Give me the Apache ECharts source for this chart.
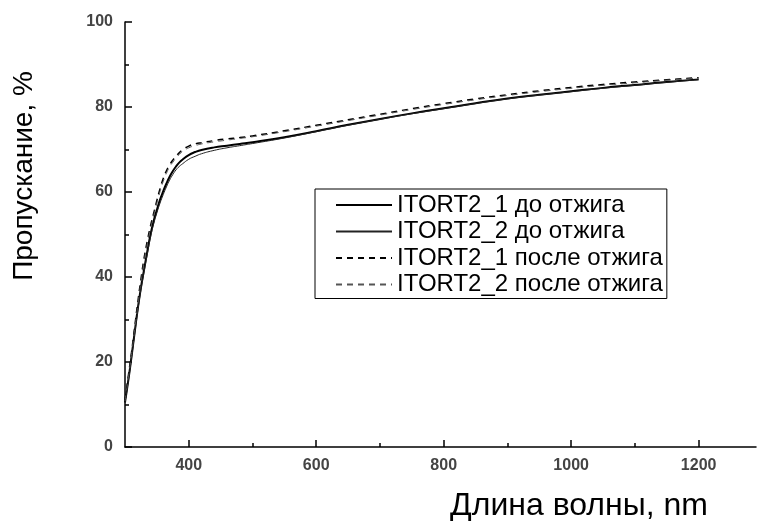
<!DOCTYPE html>
<html>
<head>
<meta charset="utf-8">
<script src="https://cdn.jsdelivr.net/npm/echarts@6/dist/echarts.min.js"></script>
<style>
  html, body { margin: 0; padding: 0; background: #fff; }
  #chart { width: 758px; height: 521px; }
</style>
</head>
<body>
<div id="chart"></div>
<script>
// длины волн, nm
const wavelength = [300, 305, 310, 315, 320, 325, 330, 335, 340, 345, 350, 355, 360, 365, 370, 375, 380, 385, 390, 400,
    410, 420, 440, 460, 480, 500, 550, 600, 650, 700, 750, 800, 850, 900, 950, 1000, 1050, 1100, 1150, 1200];

// пропускание, %
const itort1Before = [10.5, 15.5, 21, 26.8, 32.5, 37.5, 41.8, 46, 50, 53.2, 55.8, 58.2, 60.2, 62, 63.6, 64.9, 66, 66.9, 67.6, 68.7,
    69.4, 69.9, 70.5, 70.9, 71.3, 71.7, 72.9, 74.3, 75.8, 77.2, 78.5, 79.7, 80.9, 82, 82.9, 83.7, 84.5, 85.2, 85.9, 86.5];
const itort2Before = [10.5, 15.3, 20.7, 26.4, 32, 37, 41.3, 45.4, 49.3, 52.5, 55.1, 57.4, 59.4, 61.2, 62.8, 64.1, 65.2, 66, 66.6, 67.7,
    68.4, 69, 69.8, 70.4, 70.9, 71.4, 72.7, 74.2, 75.7, 77.1, 78.4, 79.6, 80.8, 81.9, 82.8, 83.6, 84.4, 85.1, 85.8, 86.4];
const itort1After = [11, 16.5, 22, 28, 34, 39.5, 44.5, 48.5, 52, 55, 58, 60.8, 63.2, 65, 66.4, 67.5, 68.4, 69.2, 69.9, 70.8,
    71.3, 71.6, 72.1, 72.5, 72.8, 73.2, 74.4, 75.7, 77, 78.3, 79.6, 80.8, 81.9, 82.9, 83.8, 84.6, 85.3, 85.9, 86.4, 86.9];
const itort2After = [10.8, 16, 21.5, 27.5, 33.3, 38.8, 43.8, 47.8, 51.4, 54.5, 57.4, 60.1, 62.5, 64.4, 65.9, 67, 68, 68.8, 69.5, 70.4,
    70.9, 71.3, 71.8, 72.2, 72.6, 73, 74.2, 75.5, 76.8, 78.1, 79.4, 80.6, 81.7, 82.7, 83.6, 84.4, 85.1, 85.7, 86.3, 86.8];

const xMajorTicks = [400, 600, 800, 1000, 1200];
const xMinorTicks = [500, 700, 900, 1100];

const seriesNames = ['ITORT2_1 до отжига', 'ITORT2_2 до отжига', 'ITORT2_1 после отжига', 'ITORT2_2 после отжига'];

function pairs(ys) {
    return wavelength.map(function (x, i) { return [x, ys[i]]; });
}

const font = 'Liberation Sans, Arial, sans-serif';
const tickLabel = {
    fontFamily: font, fontSize: 16, fontWeight: 'bold', color: '#444',
    formatter: function (v) { return String(v); }
};

let chart = echarts.init(document.getElementById('chart'));
let option = {
    backgroundColor: '#fff',
    animation: false,
    grid: { left: 125, right: 2, top: 22, bottom: 74 },
    legend: {
        orient: 'vertical',
        left: 315,
        top: 189,
        padding: [4, 4, 2, 20],
        borderColor: '#000',
        borderWidth: 1,
        itemWidth: 56,
        itemHeight: 14,
        itemGap: 2.5,
        itemStyle: { opacity: 0 },
        textStyle: { fontFamily: font, fontSize: 24, color: '#000', lineHeight: 22 },
        data: seriesNames
    },
    xAxis: [
        {
            type: 'value',
            min: 300,
            max: 1290,
            axisLine: { lineStyle: { color: '#000', width: 1.5 } },
            axisTick: { inside: true, length: 7, customValues: xMajorTicks, lineStyle: { color: '#000', width: 1.5 } },
            axisLabel: Object.assign({ customValues: xMajorTicks, margin: 11 }, tickLabel),
            splitLine: { show: false }
        },
        {
            type: 'value',
            min: 300,
            max: 1290,
            position: 'bottom',
            axisLine: { show: false },
            axisTick: { inside: true, length: 4, customValues: xMinorTicks, lineStyle: { color: '#000', width: 1.5 } },
            axisLabel: { show: false },
            splitLine: { show: false }
        }
    ],
    yAxis: {
        type: 'value',
        min: 0,
        max: 100,
        interval: 20,
        axisLine: { show: true, lineStyle: { color: '#000', width: 1.5 } },
        axisTick: { show: true, inside: true, length: 7, lineStyle: { color: '#000', width: 1.5 } },
        minorTick: { show: true, splitNumber: 2, length: 4, lineStyle: { color: '#000', width: 1.5 } },
        axisLabel: Object.assign({ margin: 12 }, tickLabel),
        splitLine: { show: false }
    },
    graphic: [
        {
            type: 'text',
            x: 579, y: 506,
            style: { text: 'Длина волны, nm', font: '32px ' + font, fill: '#000', textAlign: 'center', textVerticalAlign: 'middle' }
        },
        {
            type: 'text',
            x: 24, y: 176,
            rotation: Math.PI / 2,
            style: { text: 'Пропускание, %', font: '28px ' + font, fill: '#000', textAlign: 'center', textVerticalAlign: 'middle' }
        }
    ],
    series: [
        {
            name: seriesNames[0], type: 'line', smooth: true, symbol: 'none',
            lineStyle: { color: '#000', width: 2 }, itemStyle: { color: '#000' },
            data: pairs(itort1Before)
        },
        {
            name: seriesNames[1], type: 'line', smooth: true, symbol: 'none',
            lineStyle: { color: '#222', width: 1 }, itemStyle: { color: '#222' },
            data: pairs(itort2Before)
        },
        {
            name: seriesNames[2], type: 'line', smooth: true, symbol: 'none',
            lineStyle: { color: '#000', width: 1.5, type: [6, 5] }, itemStyle: { color: '#000' },
            data: pairs(itort1After)
        },
        {
            name: seriesNames[3], type: 'line', smooth: true, symbol: 'none',
            lineStyle: { color: '#555', width: 1, type: [6, 5] }, itemStyle: { color: '#555' },
            data: pairs(itort2After)
        }
    ]
};
option && chart.setOption(option);
</script>
</body>
</html>
